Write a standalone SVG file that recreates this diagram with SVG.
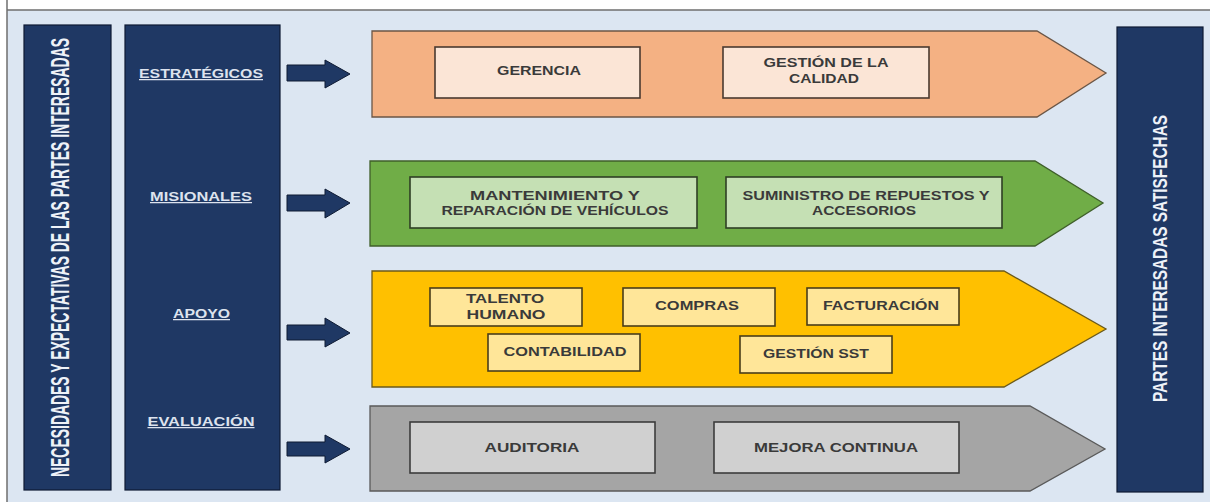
<svg xmlns="http://www.w3.org/2000/svg" width="1210" height="502" viewBox="0 0 1210 502">
  <defs>
    <style>
      .bg { fill: #dce6f2; }
      .frame { fill: none; stroke: #6f6f6f; stroke-width: 1.5; }
      .col { fill: #1f3864; stroke: #0e1a33; stroke-width: 1.2; }
      .vtext { font-family: "Liberation Sans", Arial, sans-serif; font-weight: bold; fill: #eef2f8; }
      .lvl { font-family: "Liberation Sans", Arial, sans-serif; font-weight: bold; font-size: 12.5px; fill: #dde3ee; text-decoration: underline; }
      .flow { stroke: #0e1a33; stroke-width: 1; fill: #1f3864; }
      .chev { stroke-width: 1.3; stroke-linejoin: miter; }
      .box { stroke-width: 1.6; }
      .lbl { font-family: "Liberation Sans", Arial, sans-serif; font-weight: bold; font-size: 12.5px; fill: #3a3a3a; text-anchor: middle; }
      .orange .chev { fill: #f4b183; stroke: #6b5646; }
      .orange .box { fill: #fbe5d6; stroke: #4a3a30; }
      .green .chev { fill: #70ad47; stroke: #3f5f2a; }
      .green .box { fill: #c5e0b4; stroke: #2f3f25; }
      .yellow .chev { fill: #ffc000; stroke: #6b5a1a; }
      .yellow .box { fill: #ffe699; stroke: #4a3e1a; }
      .grey .chev { fill: #a5a5a5; stroke: #5a5a5a; }
      .grey .box { fill: #d0d0d0; stroke: #3c3c3c; }
    </style>
  </defs>

  <!-- page background and frame -->
  <rect x="0" y="0" width="1210" height="502" fill="#ffffff"/>
  <rect class="bg" x="7" y="10" width="1203" height="492"/>
  <path class="frame" d="M7,0 V502 M7,10 H1210"/>

  <!-- left column: needs and expectations (condensed via vertical scale) -->
  <g id="necesidades">
    <rect class="col" x="24" y="25" width="87" height="465"/>
    <text class="vtext" x="0" y="0" transform="translate(69,257.5) rotate(-90) scale(1,1.9)" text-anchor="middle" font-size="13.5" textLength="439" lengthAdjust="spacingAndGlyphs">NECESIDADES Y EXPECTATIVAS DE LAS PARTES INTERESADAS</text>
  </g>

  <!-- process levels column -->
  <g id="niveles">
    <rect class="col" x="125" y="25" width="155" height="465"/>
    <text class="lvl" x="201" y="78" text-anchor="middle" textLength="124" lengthAdjust="spacingAndGlyphs">ESTRATÉGICOS</text>
    <text class="lvl" x="201" y="201" text-anchor="middle" textLength="102" lengthAdjust="spacingAndGlyphs">MISIONALES</text>
    <text class="lvl" x="201.5" y="318" text-anchor="middle" textLength="57" lengthAdjust="spacingAndGlyphs">APOYO</text>
    <text class="lvl" x="201" y="426" text-anchor="middle" textLength="107" lengthAdjust="spacingAndGlyphs">EVALUACIÓN</text>
  </g>

  <!-- block arrows from levels to process bands -->
  <g id="conectores">
    <polygon class="flow" points="287,65 325,65 325,60 350,74 325,88 325,81 287,81"/>
    <polygon class="flow" points="287,195 325,195 325,189 350,203 325,218 325,211 287,211"/>
    <polygon class="flow" points="287,325 325,325 325,318 350,333 325,347 325,340 287,340"/>
    <polygon class="flow" points="287,442 325,442 325,435 350,449 325,463 325,456 287,456"/>
  </g>

  <!-- strategic processes -->
  <g id="estrategicos" class="orange">
    <polygon class="chev" points="372,31 1037,31 1106,73 1037,117 372,117"/>
    <g id="gerencia">
      <rect class="box" x="435" y="47" width="205" height="51"/>
      <text class="lbl" x="539" y="75" textLength="84" lengthAdjust="spacingAndGlyphs">GERENCIA</text>
    </g>
    <g id="gestion-calidad">
      <rect class="box" x="723" y="47" width="206" height="51"/>
      <text class="lbl" x="826" y="67" textLength="125" lengthAdjust="spacingAndGlyphs">GESTIÓN DE LA</text>
      <text class="lbl" x="824" y="83" textLength="70" lengthAdjust="spacingAndGlyphs">CALIDAD</text>
    </g>
  </g>

  <!-- mission processes -->
  <g id="misionales" class="green">
    <polygon class="chev" points="370,161 1035,161 1103,203 1035,246 370,246"/>
    <g id="mantenimiento">
      <rect class="box" x="410" y="177" width="287" height="51"/>
      <text class="lbl" x="555" y="200" textLength="170" lengthAdjust="spacingAndGlyphs">MANTENIMIENTO Y</text>
      <text class="lbl" x="555" y="215" textLength="227" lengthAdjust="spacingAndGlyphs">REPARACIÓN DE VEHÍCULOS</text>
    </g>
    <g id="suministro">
      <rect class="box" x="726" y="177" width="276" height="51"/>
      <text class="lbl" x="866" y="200" textLength="247" lengthAdjust="spacingAndGlyphs">SUMINISTRO DE REPUESTOS Y</text>
      <text class="lbl" x="864" y="215" textLength="104" lengthAdjust="spacingAndGlyphs">ACCESORIOS</text>
    </g>
  </g>

  <!-- support processes -->
  <g id="apoyo" class="yellow">
    <polygon class="chev" points="372,271 1004,271 1106,329 1004,387 372,387"/>
    <g id="talento-humano">
      <rect class="box" x="430" y="288" width="152" height="38"/>
      <text class="lbl" x="505" y="303" textLength="78" lengthAdjust="spacingAndGlyphs">TALENTO</text>
      <text class="lbl" x="506" y="319" textLength="79" lengthAdjust="spacingAndGlyphs">HUMANO</text>
    </g>
    <g id="compras">
      <rect class="box" x="623" y="288" width="152" height="38"/>
      <text class="lbl" x="697" y="310" textLength="84" lengthAdjust="spacingAndGlyphs">COMPRAS</text>
    </g>
    <g id="facturacion">
      <rect class="box" x="807" y="288" width="152" height="37"/>
      <text class="lbl" x="881" y="310" textLength="116" lengthAdjust="spacingAndGlyphs">FACTURACIÓN</text>
    </g>
    <g id="contabilidad">
      <rect class="box" x="488" y="334" width="152" height="37"/>
      <text class="lbl" x="565" y="356" textLength="123" lengthAdjust="spacingAndGlyphs">CONTABILIDAD</text>
    </g>
    <g id="gestion-sst">
      <rect class="box" x="740" y="336" width="152" height="37"/>
      <text class="lbl" x="816" y="358" textLength="106" lengthAdjust="spacingAndGlyphs">GESTIÓN SST</text>
    </g>
  </g>

  <!-- evaluation processes -->
  <g id="evaluacion" class="grey">
    <polygon class="chev" points="370,406 1030,406 1105,449 1030,491 370,491"/>
    <g id="auditoria">
      <rect class="box" x="410" y="422" width="245" height="51"/>
      <text class="lbl" x="532" y="452" textLength="95" lengthAdjust="spacingAndGlyphs">AUDITORIA</text>
    </g>
    <g id="mejora-continua">
      <rect class="box" x="714" y="422" width="245" height="51"/>
      <text class="lbl" x="836" y="452" textLength="164" lengthAdjust="spacingAndGlyphs">MEJORA CONTINUA</text>
    </g>
  </g>

  <!-- right column: satisfied stakeholders -->
  <g id="partes-satisfechas">
    <rect class="col" x="1117" y="27" width="86" height="465"/>
    <text class="vtext" x="0" y="0" transform="translate(1167,258.5) rotate(-90) scale(1,1.42)" text-anchor="middle" font-size="14.5" textLength="287" lengthAdjust="spacingAndGlyphs">PARTES INTERESADAS SATISFECHAS</text>
  </g>
</svg>
